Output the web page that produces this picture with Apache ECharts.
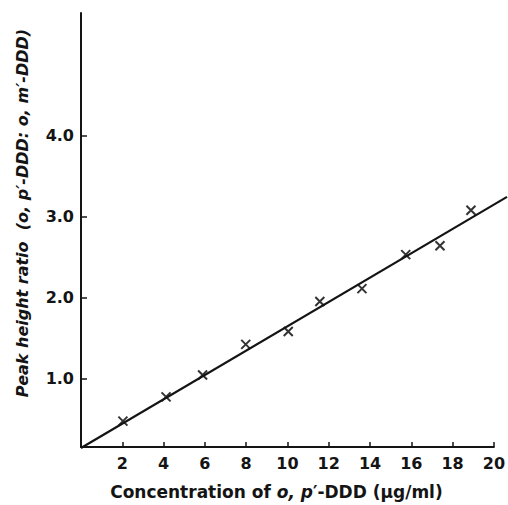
<!DOCTYPE html>
<html>
<head>
<meta charset="utf-8">
<script src="https://cdn.jsdelivr.net/npm/echarts@6/dist/echarts.min.js"></script>
<style>
  html, body { margin: 0; padding: 0; background: #fff; }
  #chart { width: 508px; height: 505px; }
</style>
</head>
<body>
<div id="chart"></div>
<script>
(function() {
  var ink = '#141414';

  // measured points (concentration, peak height ratio)
  var concX = [2.03, 4.12, 5.89, 7.98, 10.04, 11.57, 13.61, 15.73, 17.39, 18.89];
  var ratioY = [0.47, 0.77, 1.04, 1.42, 1.58, 1.95, 2.11, 2.53, 2.64, 3.08];
  // calibration line ends (runs a little past the axis end)
  var fitX = [0, 20.55];
  var fitY = [0.15, 3.25];
  var yTicks = [1, 2, 3, 4];

  var points = concX.map(function(x, i) { return [x, ratioY[i]]; });
  var fit = fitX.map(function(x, i) { return [x, fitY[i]]; });

  var chart = echarts.init(document.getElementById('chart'), null, { renderer: 'svg' });
  chart.setOption({
    animation: false,
    grid: [
      { left: 81, right: 12, top: 13, bottom: 57 },
      // same scale, wider box so the fit line can run past x = 20
      { left: 81, right: 1, top: 13, bottom: 57 }
    ],
    xAxis: [{
      type: 'value',
      gridIndex: 0,
      min: 0,
      max: 20,
      interval: 2,
      name: 'Concentration of {i|o, p}\u2032-DDD (\u03bcg/ml)',
      nameLocation: 'middle',
      nameGap: 36,
      nameTextStyle: {
        color: ink,
        fontFamily: 'DejaVu Sans',
        fontWeight: 'bold',
        fontSize: 17,
        padding: [0, 22, 0, 0],
        rich: {
          i: { fontStyle: 'italic', fontWeight: 'bold', fontFamily: 'DejaVu Sans', fontSize: 17, color: ink }
        }
      },
      axisLine: { lineStyle: { color: ink, width: 2 } },
      axisTick: { inside: true, length: 5, lineStyle: { color: ink, width: 1.5 } },
      axisLabel: {
        color: ink,
        fontFamily: 'DejaVu Sans',
        fontWeight: 'bold',
        fontSize: 16,
        margin: 8,
        formatter: function(v) { return v === 0 ? '' : String(v); }
      },
      splitLine: { show: false }
    }, {
      type: 'value',
      gridIndex: 1,
      min: 0,
      max: 20.55,
      show: false
    }],
    yAxis: [{
      type: 'value',
      gridIndex: 0,
      min: 0.15,
      max: 5.52,
      name: 'Peak height ratio  (o, p\u2032-DDD: o, m\u2032-DDD)',
      nameLocation: 'middle',
      nameGap: 51,
      nameTextStyle: {
        color: ink,
        fontFamily: 'DejaVu Sans',
        fontStyle: 'italic',
        fontWeight: 'bold',
        fontSize: 16,
        padding: [0, 0, 0, 34]
      },
      axisLine: { lineStyle: { color: ink, width: 2 } },
      axisTick: {
        inside: true,
        length: 6,
        customValues: yTicks,
        lineStyle: { color: ink, width: 1.5 }
      },
      axisLabel: {
        color: ink,
        fontFamily: 'DejaVu Sans',
        fontWeight: 'bold',
        fontSize: 16,
        margin: 7,
        customValues: yTicks,
        formatter: function(v) { return v.toFixed(1); }
      },
      splitLine: { show: false }
    }, {
      type: 'value',
      gridIndex: 1,
      min: 0.15,
      max: 5.52,
      show: false
    }],
    series: [
      {
        type: 'line',
        xAxisIndex: 1,
        yAxisIndex: 1,
        data: fit,
        showSymbol: false,
        lineStyle: { color: ink, width: 2.2 }
      },
      {
        type: 'scatter',
        xAxisIndex: 0,
        yAxisIndex: 0,
        data: points,
        symbol: 'path://M0,0L10,10M10,0L0,10',
        symbolSize: 9,
        itemStyle: { color: 'none', borderColor: '#000', borderWidth: 2 }
      }
    ]
  });
  window.addEventListener('resize', function() { chart.resize(); });
})();
</script>
</body>
</html>
